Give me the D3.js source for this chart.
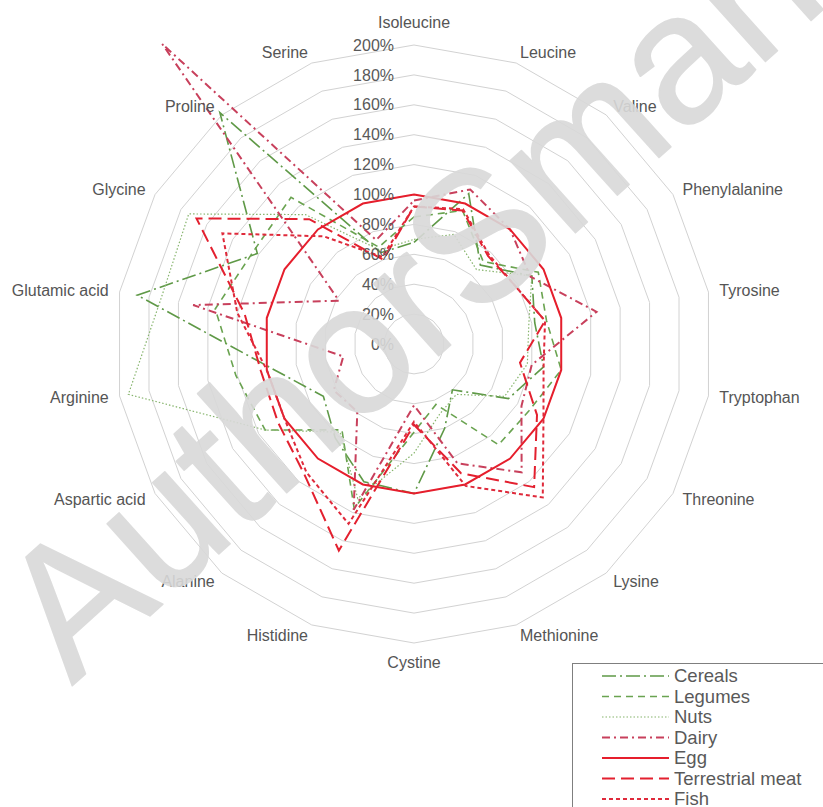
<!DOCTYPE html>
<html>
<head>
<meta charset="utf-8">
<script src="https://cdn.jsdelivr.net/npm/d3@7"></script>
<style>
  body { margin: 0; background: #fff; }
  svg { display: block; font-family: "Liberation Sans", Arial, sans-serif; }
</style>
</head>
<body>
<svg id="chart" width="823" height="807"></svg>
<script>
'use strict';

var aminoAcids = ['Isoleucine', 'Leucine', 'Valine', 'Phenylalanine', 'Tyrosine', 'Tryptophan',
  'Threonine', 'Lysine', 'Methionine', 'Cystine', 'Histidine', 'Alanine', 'Aspartic acid',
  'Arginine', 'Glutamic acid', 'Glycine', 'Proline', 'Serine'];

// % of egg
var cereals = [68, 107, 69, 91, 82, 88, 73, 40, 60, 100, 98, 82, 70, 96, 188, 121, 202, 65];
var legumes = [85, 95, 72, 96, 90, 100, 89, 88, 43, 59, 117, 75, 115, 121, 135, 124, 128, 69];
var nuts = [70, 78, 65, 91, 78, 77, 70, 44, 50, 73, 110, 77, 115, 194, 172, 174, 113, 67];
var dairy = [96, 110, 100, 90, 124, 80, 83, 112, 85, 41, 118, 59, 62, 48, 150, 58, 262, 74];
var egg = [100, 100, 100, 100, 100, 100, 100, 100, 100, 100, 100, 100, 100, 100, 100, 100, 100, 100];
var meat = [92, 95, 77, 78, 89, 72, 95, 125, 92, 54, 147, 114, 105, 104, 115, 168, 109, 60];
var fish = [92, 96, 78, 78, 89, 88, 100, 134, 101, 52, 128, 112, 100, 100, 120, 148, 94, 62];

var seriesNames = ['Cereals', 'Legumes', 'Nuts', 'Dairy', 'Egg', 'Terrestrial meat', 'Fish'];
var seriesValues = [cereals, legumes, nuts, dairy, egg, meat, fish];
var percentTicks = [0, 20, 40, 60, 80, 100, 120, 140, 160, 180, 200];

var seriesColors = ['#5f9947', '#6aa350', '#86b46c', '#c8405c', '#e61e2c', '#e3202f', '#df2a3b'];
var seriesDash = ['14,4,2,4', '7,5', '1.5,2', '8,4,2,4', null, '13,6', '4,3'];
var seriesWidth = [1.6, 1.6, 1.2, 2, 2, 2, 2];

var width = 823, height = 807, cx = 414, cy = 344;
var svg = d3.select('#chart');
svg.append('rect').attr('width', width).attr('height', height).attr('fill', '#fff');

var rScale = d3.scaleLinear().domain([0, 200]).range([0, 299]);
var aScale = d3.scaleLinear().domain([0, aminoAcids.length]).range([0, 2 * Math.PI]);

var radar = d3.lineRadial()
  .angle(function (d, i) { return aScale(i); })
  .radius(function (d) { return rScale(d); })
  .curve(d3.curveLinearClosed);

var g = svg.append('g').attr('transform', 'translate(' + cx + ',' + cy + ')');

// grid polygons
g.selectAll('path.grid')
  .data(percentTicks.slice(1))
  .enter()
  .append('path')
  .attr('class', 'grid')
  .attr('d', function (t) { return radar(aminoAcids.map(function () { return t; })); })
  .attr('fill', 'none')
  .attr('stroke', '#d2d2d2')
  .attr('stroke-width', 1);

// series
g.selectAll('path.series')
  .data(seriesValues)
  .enter()
  .append('path')
  .attr('class', 'series')
  .attr('d', function (d) { return radar(d); })
  .attr('fill', 'none')
  .attr('stroke', function (d, i) { return seriesColors[i]; })
  .attr('stroke-width', function (d, i) { return seriesWidth[i]; })
  .attr('stroke-dasharray', function (d, i) { return seriesDash[i]; });

// tick labels
g.selectAll('text.tick')
  .data(percentTicks)
  .enter()
  .append('text')
  .attr('class', 'tick')
  .attr('x', -20)
  .attr('y', function (t) { return -rScale(t); })
  .attr('dy', '0.35em')
  .attr('text-anchor', 'end')
  .attr('font-size', 16)
  .attr('fill', '#595959')
  .text(function (t) { return t + '%'; });

// category labels
g.selectAll('text.cat')
  .data(aminoAcids)
  .enter()
  .append('text')
  .attr('class', 'cat')
  .each(function (d, i) {
    var a = aScale(i);
    var deg = i * 360 / aminoAcids.length;
    var rr = deg === 0 ? 322 : (deg === 180 ? 318 : 310);
    d3.select(this)
      .attr('x', rr * Math.sin(a))
      .attr('y', -rr * Math.cos(a))
      .attr('text-anchor', deg === 0 || deg === 180 ? 'middle' : (deg < 180 ? 'start' : 'end'));
  })
  .attr('dy', '0.35em')
  .attr('font-size', 16)
  .attr('fill', '#555')
  .text(function (d) { return d; });

// legend
var legend = svg.append('g').attr('transform', 'translate(572,663)');
legend.append('rect')
  .attr('x', 0.5).attr('y', 0.5)
  .attr('width', 270).attr('height', 170)
  .attr('fill', '#fff')
  .attr('stroke', '#7f7f7f');

var rows = legend.selectAll('g.row')
  .data(seriesNames)
  .enter()
  .append('g')
  .attr('class', 'row')
  .attr('transform', function (d, i) { return 'translate(0,' + (13 + i * 20.5) + ')'; });

rows.append('line')
  .attr('x1', 30).attr('x2', 97)
  .attr('stroke', function (d, i) { return seriesColors[i]; })
  .attr('stroke-width', function (d, i) { return seriesWidth[i]; })
  .attr('stroke-dasharray', function (d, i) { return seriesDash[i]; });

rows.append('text')
  .attr('x', 102)
  .attr('dy', '0.35em')
  .attr('font-size', 18.5)
  .attr('fill', '#595959')
  .text(function (d) { return d; });

// watermark
svg.append('text')
  .attr('transform', 'translate(72,686) rotate(-42)')
  .attr('font-size', 184)
  .attr('fill', '#d9d9d9')
  .attr('stroke', '#d9d9d9')
  .attr('stroke-width', 1.5)
  .attr('stroke-linejoin', 'round')
  .attr('opacity', 0.9)
  .text('AuthorSmanuscript');
</script>
</body>
</html>
